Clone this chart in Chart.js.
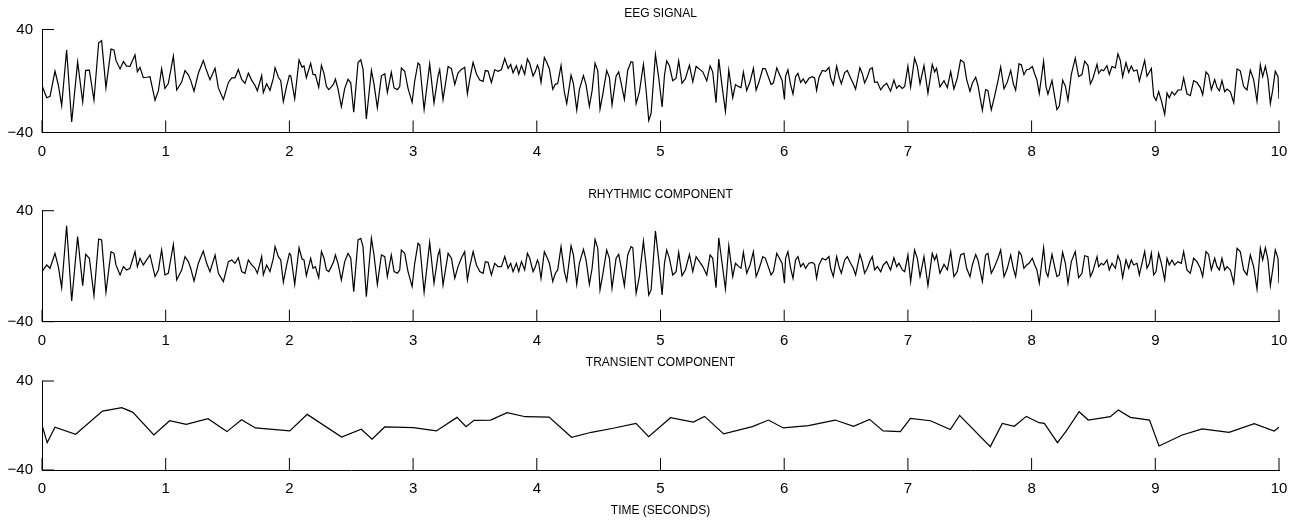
<!DOCTYPE html>
<html>
<head>
<meta charset="utf-8">
<title>EEG decomposition</title>
<script src="https://cdn.jsdelivr.net/npm/chart.js@4.4.1/dist/chart.umd.min.js"></script>
<style>
  html, body { margin: 0; padding: 0; background: #fff; }
  body { width: 1302px; height: 525px; position: relative; overflow: hidden; }
  canvas { position: absolute; left: 0; }
</style>
</head>
<body>
<canvas id="eegChart" width="1302" height="160" style="top:0px"></canvas>
<canvas id="rhythmChart" width="1302" height="175" style="top:175px"></canvas>
<canvas id="transChart" width="1302" height="180" style="top:345px"></canvas>
<script>
// tick labels
const xTicks = [0, 1, 2, 3, 4, 5, 6, 7, 8, 9, 10];
const yTicks = [-40, 40];

// sample times (seconds) shared by the EEG signal and the rhythmic component
const sampleTimes = [
  0.000, 0.038, 0.065, 0.105, 0.132, 0.159, 0.199, 0.240, 0.288, 0.329, 0.353, 0.383, 0.420, 0.458, 0.482, 0.517, 0.558, 0.582, 0.598, 0.631,
  0.658, 0.684, 0.711, 0.752, 0.771, 0.792, 0.819, 0.846, 0.873, 0.914, 0.941, 0.967, 0.994, 1.021, 1.062, 1.089, 1.129, 1.156, 1.183, 1.202,
  1.229, 1.264, 1.304, 1.331, 1.358, 1.399, 1.426, 1.466, 1.507, 1.534, 1.560, 1.587, 1.614, 1.641, 1.668, 1.695, 1.722, 1.741, 1.776, 1.789,
  1.816, 1.843, 1.870, 1.884, 1.911, 1.930, 1.951, 1.978, 2.000,
  2.011, 2.043, 2.078, 2.102, 2.118, 2.137, 2.172, 2.191, 2.210, 2.237, 2.259, 2.280, 2.299, 2.318, 2.339, 2.358, 2.372, 2.393, 2.420, 2.447,
  2.474, 2.496, 2.520, 2.555, 2.577, 2.595, 2.622, 2.663, 2.684, 2.711, 2.744, 2.771, 2.792, 2.824, 2.846, 2.873, 2.892, 2.905, 2.932, 2.959,
  2.992, 3.013, 3.040, 3.054, 3.089, 3.134, 3.169, 3.202, 3.215, 3.242, 3.283, 3.310, 3.337, 3.363, 3.390, 3.417, 3.439, 3.458, 3.485, 3.512,
  3.539, 3.566, 3.584, 3.606, 3.633, 3.660, 3.687, 3.714, 3.741, 3.768, 3.789, 3.808, 3.835, 3.854, 3.876, 3.902, 3.924, 3.943, 3.970, 3.989,
  4.005,
  4.016, 4.034, 4.061, 4.080, 4.102, 4.129, 4.150, 4.169, 4.196, 4.223, 4.242, 4.277, 4.296, 4.323, 4.344, 4.377, 4.398, 4.425, 4.447, 4.471,
  4.493, 4.511, 4.533, 4.565, 4.587, 4.608, 4.641, 4.662, 4.681, 4.708, 4.735, 4.762, 4.776, 4.803, 4.829, 4.862, 4.883, 4.905, 4.924, 4.959,
  4.986, 5.013, 5.032, 5.050, 5.072, 5.099, 5.126, 5.147, 5.174, 5.201, 5.234, 5.261, 5.288, 5.315, 5.342, 5.374, 5.401, 5.422, 5.449, 5.471,
  5.498, 5.525, 5.552, 5.584, 5.606, 5.633, 5.651, 5.670, 5.697, 5.724, 5.751, 5.773, 5.794, 5.827, 5.848, 5.894, 5.913, 5.940, 5.961, 5.983,
  6.002,
  6.011, 6.030, 6.052, 6.071, 6.092, 6.111, 6.133, 6.154, 6.173, 6.200, 6.227, 6.246, 6.262, 6.281, 6.308, 6.335, 6.362, 6.375, 6.397, 6.424,
  6.443, 6.462, 6.489, 6.510, 6.537, 6.559, 6.577, 6.612, 6.631, 6.650, 6.672, 6.693, 6.712, 6.731, 6.753, 6.780, 6.801, 6.828, 6.860, 6.887,
  6.909, 6.928, 6.955, 6.974, 7.000, 7.022, 7.054, 7.076, 7.098, 7.130, 7.162, 7.197, 7.216, 7.232, 7.259, 7.292, 7.319, 7.346, 7.372, 7.399,
  7.426, 7.453, 7.475, 7.502, 7.521, 7.548, 7.566, 7.602, 7.628, 7.647, 7.674, 7.701, 7.728, 7.750, 7.777, 7.804, 7.831, 7.852, 7.871, 7.898,
  7.917, 7.938, 7.960, 7.979, 8.006,
  8.025, 8.043, 8.062, 8.097, 8.116, 8.132, 8.165, 8.186, 8.205, 8.224, 8.251, 8.273, 8.294, 8.321, 8.353, 8.380, 8.407, 8.429, 8.456, 8.475,
  8.494, 8.529, 8.542, 8.564, 8.582, 8.609, 8.628, 8.650, 8.677, 8.698, 8.717, 8.736, 8.763, 8.785, 8.806, 8.825, 8.852, 8.871, 8.892, 8.914,
  8.933, 8.952, 8.968, 8.987, 9.006, 9.027, 9.049, 9.076, 9.095, 9.113, 9.135, 9.156, 9.183, 9.210, 9.229, 9.256, 9.283, 9.310, 9.337, 9.364,
  9.383, 9.410, 9.431, 9.453, 9.480, 9.499, 9.518, 9.539, 9.561, 9.580, 9.607, 9.634, 9.661, 9.687, 9.714, 9.741, 9.768, 9.795, 9.822, 9.849,
  9.868, 9.890, 9.911, 9.930, 9.949, 9.970, 9.992, 10.000
];

const eegValues = [
  -3.5, -13.0, -11.9, 7.7, -2.9, -19.1, 24.1, -31.8, 14.9, -16.4, 8.3, 8.5, -14.9, 29.7, 31.3, -5.3, 24.8, 24.1, 16.0, 9.4,
  15.1, 11.5, 11.4, 20.3, 7.2, 10.6, 2.6, 2.9, 3.3, -15.0, -7.5, 9.5, -5.8, -2.0, 19.3, -7.0, -0.8, 8.1, 4.8, 0.5,
  -7.9, 6.0, 15.9, 7.9, 1.0, 9.9, -5.4, -14.4, -1.1, 2.5, 2.5, 8.9, 1.3, -1.8, 6.1, 0.7, -3.5, -7.5, 4.2, -9.1,
  -2.2, -7.2, 2.1, 10.4, 2.9, 0.3, -16.0, -3.8, 4.4,
  4.0, -13.8, 16.3, 10.7, 11.8, 2.5, 13.7, 5.1, 4.8, -5.0, 12.2, 5.8, -4.1, -6.7, -4.5, -2.3, 1.5, -6.2, -20.0, -5.9,
  1.3, -1.4, -24.3, 14.4, 16.5, 9.2, -29.5, 8.2, -2.5, -20.8, 4.0, 5.6, -8.9, 6.7, -5.4, -6.7, -4.3, 10.1, 7.6, -5.7,
  -16.6, 0.0, 14.0, 12.6, -22.1, 13.2, -16.9, 4.2, 8.8, -14.5, 11.3, 9.7, -2.7, 6.1, 9.0, 10.7, -9.9, 1.3, 14.5, 5.5,
  0.8, -0.3, 8.1, 7.7, -1.1, 8.7, 7.6, 8.9, 17.5, 9.8, 12.9, 6.4, 11.8, 5.3, 12.0, 5.3, 17.2, 13.6, 3.9, 7.5,
  12.3,
  9.8, -1.0, 18.2, 14.5, 9.4, -6.5, -2.6, -2.0, 12.1, -8.7, -17.5, 4.6, -2.1, -22.5, -6.7, 4.2, -2.8, -19.7, -7.5, 13.8,
  7.9, -21.8, -10.5, 8.1, 2.6, -18.6, 3.8, 7.1, -1.2, -14.3, 8.4, 15.0, 14.6, -17.6, -8.7, 13.0, -6.6, -30.7, -25.2, 20.6,
  2.3, -20.2, 4.3, 15.6, 11.8, 0.3, 2.2, 15.6, -1.8, 1.8, 12.3, -0.7, 11.3, 9.2, 7.1, 0.1, 11.7, 7.1, -16.8, 17.0,
  -4.2, -23.6, 8.4, -13.0, -2.8, -4.4, -5.1, 6.9, -7.4, -0.6, 9.9, -7.1, -1.4, 9.7, 9.5, -2.7, -1.4, 10.2, 5.3, 0.4,
  -14.4,
  3.7, 8.7, -3.1, -10.1, 3.3, 5.9, -1.1, 1.6, -1.8, 2.1, 3.4, 2.4, -7.3, 2.8, 8.2, 7.6, 10.6, 2.5, -3.0, 11.4,
  3.4, -2.1, 6.5, 8.1, 2.3, -2.2, -6.3, 10.3, 5.9, -1.5, 3.1, 9.2, 10.3, -1.1, -0.7, -6.9, -4.0, -1.7, -7.9, 0.8,
  -5.7, -3.4, -5.8, -4.3, 11.5, -4.7, 17.7, 11.4, -2.1, 11.9, -9.4, 12.9, 7.1, 9.9, -4.6, 0.2, -5.2, 7.3, -6.2, 2.0,
  16.3, 14.5, 1.1, -8.0, -1.8, 2.9, -3.3, -22.8, -6.7, -7.5, -22.4, -11.8, 0.1, 10.9, -6.0, -0.7, 8.2, -2.0, -7.2, 13.3,
  12.6, 4.9, 8.9, 9.1, 11.2,
  5.4, 0.8, -9.8, 15.3, -4.1, -10.3, 0.4, -11.9, -22.2, -19.5, 0.7, -4.0, -15.0, 5.1, 17.7, 3.4, 5.0, 15.4, 12.0, -2.3,
  1.6, 13.0, 6.0, 8.8, 7.9, 11.9, 5.1, 11.3, 10.2, 21.2, 16.1, 3.2, 14.2, 6.7, 11.7, 7.8, 8.6, -0.1, 7.9, 16.0,
  3.7, 7.0, 9.7, -11.7, -15.1, -8.2, -15.3, -25.9, -9.3, -13.1, -8.4, -10.9, -7.1, -6.8, 2.4, -9.9, -11.4, 0.3, -1.2, -5.1,
  -10.7, 7.0, 4.7, -6.8, 1.2, -5.1, -7.7, 0.4, -8.3, -6.2, -8.4, -16.9, 9.3, 7.9, -4.3, -6.9, 8.5, 1.1, -15.7, 12.5,
  3.4, 11.3, 1.6, -17.6, -7.1, 7.6, 3.4, -13.9
];

const rhythmicValues = [
  -3.9, 0.9, -1.5, 9.3, -0.3, -15.5, 29.2, -25.1, 21.3, -14.0, 8.5, 5.7, -21.2, 19.6, 18.9, -18.8, 10.5, 9.3, 0.9, -6.3,
  -0.3, -2.7, -1.5, 10.5, -0.3, 5.7, 0.9, 4.5, 8.1, -7.5, -2.7, 11.7, -6.3, -5.1, 15.7, -9.9, -2.7, 6.9, 3.3, -1.5,
  -10.7, 2.1, 10.9, 2.1, -3.9, 8.1, -5.1, -11.1, 3.3, 4.5, 2.1, 6.1, -3.9, -5.1, 4.5, 0.9, -1.5, -5.1, 6.9, -6.3,
  0.9, -3.9, 5.7, 14.1, 6.9, 4.5, -11.6, 0.9, 9.3,
  8.1, -13.1, 13.3, 5.2, 4.5, -6.8, 5.7, -1.5, -0.3, -8.3, 10.5, 5.7, -2.7, -3.9, -0.3, 3.3, 8.1, 2.1, -9.9, 3.3,
  9.3, 5.7, -18.3, 18.9, 20.1, 14.1, -21.9, 20.1, 8.1, -13.1, 8.1, 6.9, -7.5, 8.1, -3.9, -5.1, -2.7, 11.7, 9.3, -3.9,
  -14.7, 2.1, 16.5, 15.3, -18.8, 17.2, -12.3, 8.1, 11.7, -13.5, 9.3, 5.7, -8.7, -0.3, 5.7, 10.5, -9.9, -0.3, 10.5, 0.9,
  -3.9, -5.1, 3.3, 2.8, -6.3, 2.1, -0.3, -0.3, 6.9, -1.5, 2.1, -3.9, 2.1, -3.9, 3.3, -2.7, 9.3, 5.7, -3.9, -0.3,
  4.5,
  2.1, -8.7, 10.5, 6.9, 2.1, -11.1, -5.1, -2.7, 14.1, -3.9, -10.7, 14.8, 8.1, -13.1, 2.1, 12.1, 4.5, -13.1, -1.5, 19.3,
  12.9, -17.1, -6.3, 11.7, 5.7, -15.9, 5.7, 8.5, -0.3, -14.0, 8.1, 14.1, 13.3, -19.5, -7.5, 18.1, 0.9, -20.7, -17.1, 25.3,
  4.5, -20.7, 2.1, 11.7, 5.7, -6.3, -3.9, 10.0, -6.8, -2.7, 8.5, -3.9, 6.9, 3.3, -0.3, -6.3, 8.1, 5.7, -15.5, 20.5,
  2.1, -16.4, 14.8, -7.5, 2.1, -0.3, -1.5, 10.0, -5.1, 0.9, 10.5, -7.5, -2.7, 6.9, 5.7, -6.3, -3.9, 9.3, 5.7, 2.1,
  -12.3,
  5.7, 10.5, -1.5, -8.7, 4.5, 6.9, -0.3, 2.1, -1.5, 2.1, 2.8, 1.3, -8.7, 0.9, 5.7, 4.5, 6.9, -1.5, -7.5, 6.9,
  -0.3, -5.1, 4.5, 6.9, 2.1, -1.5, -6.3, 8.5, 3.3, -5.1, -1.5, 3.7, 6.9, -2.7, -0.3, -3.9, 0.9, 3.3, -2.7, 6.1,
  -0.3, 2.1, -2.7, -3.9, 8.1, -11.1, 11.7, 5.7, -7.5, 6.9, -14.0, 9.3, 4.5, 8.1, -5.1, 1.3, -2.7, 10.5, -7.5, -3.9,
  8.1, 9.3, -1.5, -7.5, 0.9, 8.5, 4.5, -11.1, 8.1, 9.3, -5.1, -0.3, 5.7, 11.7, -7.5, -1.5, 8.1, -1.5, -7.5, 10.5,
  8.1, -1.5, 0.9, 2.1, 5.7,
  0.9, -2.7, -12.3, 13.3, -3.9, -7.5, 8.5, -0.3, -7.5, -6.3, 10.0, 2.1, -12.3, 3.3, 10.5, -8.3, -5.1, 7.6, 6.9, -7.5,
  -3.9, 6.9, -0.3, 2.1, 0.9, 4.5, -2.7, 2.1, -1.5, 7.6, 3.3, -8.3, 4.5, -1.5, 4.5, 0.9, 2.1, -6.3, 2.1, 10.5,
  -1.5, 2.1, 9.3, -6.3, -3.9, 9.3, 2.1, -9.9, 5.7, 0.9, 4.5, 0.9, 3.3, 2.1, 10.5, -2.7, -5.1, 5.7, 3.3, -1.5,
  -7.5, 10.5, 8.5, -2.7, 5.7, -0.3, -2.7, 5.7, -2.7, -0.3, -2.7, -12.3, 12.9, 10.5, -2.7, -6.3, 8.1, -0.3, -16.4, 12.9,
  4.5, 13.3, 4.5, -14.0, -2.7, 11.7, 5.7, -12.3
];

// transient component: breakpoints of the piecewise linear curve
const transientTimes = [
  0, 0.042, 0.105, 0.272, 0.489, 0.645, 0.735, 0.904, 1.032, 1.166, 1.342, 1.495, 1.613, 1.725, 2.003, 2.144, 2.422, 2.581,
  2.668, 2.770, 3.003, 3.188, 3.355, 3.428, 3.492, 3.626, 3.760, 3.907, 4.099, 4.281, 4.441, 4.617, 4.802, 4.904, 5.081, 5.265,
  5.356, 5.511, 5.743, 5.873, 5.992, 6.196, 6.412, 6.561, 6.690, 6.800, 6.939, 7.020, 7.182, 7.343, 7.418, 7.666, 7.763, 7.860,
  7.957, 8.061, 8.103, 8.209, 8.281, 8.384, 8.458, 8.636, 8.701, 8.798, 8.953, 9.030, 9.218, 9.379, 9.596, 9.800, 9.961, 10.0
];
const transientValues = [
  0.4, -15.4, -1.6, -7.9, 13.0, 16.0, 11.8, -8.5, 4.3, 1.0, 6.1, -5.5, 5.2, -2.2, -4.9, 10.0, -10.3, -3.4,
  -12.4, -1.3, -1.9, -4.9, 7.3, -1.0, 4.6, 4.9, 11.5, 7.9, 7.6, -10.6, -6.1, -2.5, 1.9, -10.0, 7.0, 3.1,
  8.2, -7.6, -1.0, 4.9, -2.2, -0.1, 4.9, -0.7, 5.5, -4.9, -5.5, 6.4, 4.3, -3.7, 9.1, -19.0, 1.9, -0.7,
  8.2, 2.5, 1.9, -15.4, -4.9, 12.4, 4.9, 7.9, 13.9, 7.3, 4.9, -18.4, -8.5, -3.1, -6.1, 1.6, -4.9, -1.6
];

const fontFamily = "'Liberation Sans', Arial, Helvetica, sans-serif";

// ticks that point into the plot, like the original figure
const innerTicks = {
  id: "innerTicks",
  afterDraw(chart) {
    const { ctx, scales: { x, y } } = chart;
    ctx.save();
    ctx.strokeStyle = "#000";
    ctx.lineWidth = 1;
    ctx.beginPath();
    xTicks.forEach((v) => {
      const px = x.getPixelForValue(v);
      ctx.moveTo(px, y.bottom);
      ctx.lineTo(px, y.bottom - 12);
    });
    yTicks.forEach((v) => {
      const py = y.getPixelForValue(v);
      ctx.moveTo(x.left, py);
      ctx.lineTo(x.left + 12, py);
    });
    ctx.stroke();
    ctx.restore();
  },
};

function makePanel(id, titleText, titlePad, xHeight, points, xTitle) {
  return new Chart(document.getElementById(id), {
    type: "line",
    data: {
      datasets: [
        {
          data: points,
          borderColor: "#000",
          borderWidth: 1.2,
          pointRadius: 0,
          tension: 0,
          fill: false,
        },
      ],
    },
    options: {
      responsive: false,
      animation: false,
      events: [],
      layout: { padding: { left: 0, right: 23, top: 0, bottom: 0 } },
      plugins: {
        legend: { display: false },
        tooltip: { enabled: false },
        title: {
          display: true,
          text: titleText,
          fullSize: false,
          color: "#000",
          font: { family: fontFamily, size: 12, weight: "normal", lineHeight: 1.2 },
          padding: titlePad,
        },
      },
      scales: {
        x: {
          type: "linear",
          min: 0,
          max: 10,
          afterBuildTicks: (s) => {
            s.ticks = xTicks.map((v) => ({ value: v }));
          },
          afterFit: (s) => {
            s.height = xHeight;
          },
          grid: { display: false, drawTicks: false },
          border: { display: true, color: "#000", width: 1 },
          ticks: {
            autoSkip: false,
            maxRotation: 0,
            padding: 10,
            color: "#000",
            font: { family: fontFamily, size: 15 },
          },
          title: xTitle || { display: false },
        },
        y: {
          min: -40,
          max: 40,
          afterBuildTicks: (s) => {
            s.ticks = yTicks.map((v) => ({ value: v }));
          },
          afterFit: (s) => {
            s.width = 42;
          },
          grid: { display: false, drawTicks: false },
          border: { display: true, color: "#000", width: 1 },
          ticks: {
            padding: 9,
            color: "#000",
            font: { family: fontFamily, size: 15 },
            callback: (v) => (v < 0 ? "\u2212" + Math.abs(v) : String(v)),
          },
        },
      },
    },
    plugins: [innerTicks],
  });
}

const eegPoints = sampleTimes.map((t, i) => ({ x: t, y: eegValues[i] }));
const rhythmPoints = sampleTimes.map((t, i) => ({ x: t, y: rhythmicValues[i] }));
const transPoints = transientTimes.map((t, i) => ({ x: t, y: transientValues[i] }));

makePanel("eegChart", "EEG SIGNAL", { top: 6, bottom: 9.1 }, 27.5, eegPoints);
makePanel("rhythmChart", "RHYTHMIC COMPONENT", { top: 12.3, bottom: 9 }, 28.3, rhythmPoints);
makePanel("transChart", "TRANSIENT COMPONENT", { top: 10.3, bottom: 11.3 }, 55, transPoints, {
  display: true,
  text: "TIME (SECONDS)",
  color: "#000",
  font: { family: fontFamily, size: 12, lineHeight: 1.2 },
  padding: { top: 4, bottom: 6.8 },
});
</script>
</body>
</html>
